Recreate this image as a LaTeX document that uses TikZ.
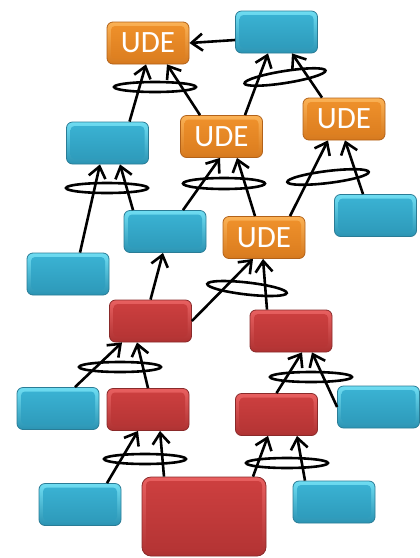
\documentclass[tikz,border=0pt]{standalone}
\usepackage{fontspec}
\newfontfamily\udefont{Carlito}
\usetikzlibrary{arrows.meta}
\definecolor{blueT}{HTML}{6FDDF2}
\definecolor{blueM}{HTML}{3BB4D5}
\definecolor{blueB}{HTML}{2A93B3}
\definecolor{blueD}{HTML}{2A7C96}
\definecolor{orT}{HTML}{FBB256}
\definecolor{orM}{HTML}{F0922C}
\definecolor{orB}{HTML}{D6781C}
\definecolor{orD}{HTML}{B2621A}
\definecolor{rdT}{HTML}{E86060}
\definecolor{rdM}{HTML}{CE4040}
\definecolor{rdB}{HTML}{AE3131}
\definecolor{rdD}{HTML}{8A2A2A}
\tikzset{
  boxbase/.style n args={4}{rounded corners=6pt, draw=#4, line width=0.8pt,
    top color=#1, bottom color=#3, minimum width=82pt, minimum height=42pt, inner sep=0pt,
    path picture={\shade[top color=#2, bottom color=#3!85!#2, rounded corners=4pt]
      ([shift={(4pt,-4pt)}]path picture bounding box.north west) rectangle
      ([shift={(-4pt,5pt)}]path picture bounding box.south east);}},
  bluebox/.style={boxbase={blueT}{blueM}{blueB}{blueD}},
  orangebox/.style={boxbase={orT}{orM}{orB}{orD}, text=white, font=\udefont\fontsize{31}{31}\selectfont},
  redbox/.style={boxbase={rdT}{rdM}{rdB}{rdD}},
  arr/.style={line width=2.6pt, -{Straight Barb[length=11pt,width=17pt]}},
  ring/.style={line width=2.6pt}
}
\begin{document}
\begin{tikzpicture}[x=1pt,y=1pt]
\useasboundingbox (0,0) rectangle (420,-558);
% nodes
\node[orangebox] (ude1) at (148,-43) {UDE};
\node[bluebox] (b1) at (276.5,-32) {};
\node[bluebox] (b2) at (107.5,-143) {};
\node[orangebox] (ude2) at (221.5,-136.5) {UDE};
\node[orangebox] (ude3) at (344,-119) {UDE};
\node[bluebox] (b3) at (165,-231.5) {};
\node[orangebox] (ude4) at (264,-237.5) {UDE};
\node[bluebox] (b4) at (375.5,-215.5) {};
\node[bluebox] (b5) at (68,-274) {};
\node[redbox] (r1) at (150.5,-321) {};
\node[redbox] (r2) at (291,-331) {};
\node[bluebox] (b6) at (58,-408.5) {};
\node[redbox] (r3) at (148,-409.5) {};
\node[redbox] (r4) at (276.5,-414.5) {};
\node[bluebox] (b7) at (378.5,-407) {};
\node[bluebox] (b8) at (80,-504.5) {};
\node[redbox, minimum width=124pt, minimum height=79pt, rounded corners=9pt] (r5) at (204,-516.5) {};
\node[bluebox] (b9) at (334,-502) {};
% connectors
\draw[arr] ([yshift=-8pt]b1.west) -- (ude1.east);
\draw[arr] ([xshift=22pt]b2.north) -- ([xshift=-2pt]ude1.south);
\draw[arr] ([xshift=-21.5pt]ude2.north) -- ([xshift=19pt]ude1.south);
\draw[arr] ([xshift=23.5pt]ude2.north) -- ([xshift=-8.5pt]b1.south);
\draw[arr] ([xshift=-22pt]ude3.north) -- ([xshift=15.5pt]b1.south);
\draw[arr] ([xshift=12pt]b5.north) -- ([xshift=-7.5pt]b2.south);
\draw[arr] ([xshift=-32pt]b3.north) -- ([xshift=12.5pt]b2.south);
\draw[arr] ([xshift=18pt]b3.north) -- ([xshift=-1.5pt]ude2.south);
\draw[arr] ([xshift=-9pt]ude4.north) -- ([xshift=15.5pt]ude2.south);
\draw[arr] ([xshift=26pt]ude4.north) -- ([xshift=-16pt]ude3.south);
\draw[arr] ([xshift=-12.5pt]b4.north) -- ([xshift=1pt]ude3.south);
\draw[arr] (r1.north) -- ([xshift=-2pt]b3.south);
\draw[arr] (r1.east) -- ([xshift=-11pt]ude4.south);
\draw[arr] ([xshift=-24pt]r2.north) -- ([xshift=-1pt]ude4.south);
\draw[arr] ([xshift=17pt]b6.north) -- ([xshift=-28.5pt]r1.south);
\draw[arr] (r3.north) -- ([xshift=-13.5pt]r1.south);
\draw[arr] (r4.north) -- ([xshift=11pt]r2.south);
\draw[arr] (b7.west) -- ([xshift=21pt]r2.south);
\draw[arr] ([xshift=27pt]b8.north) -- ([xshift=-10pt]r3.south);
\draw[arr] ([xshift=-40pt]r5.north) -- ([xshift=12pt]r3.south);
\draw[arr] ([xshift=49pt]r5.north) -- ([xshift=-8.5pt]r4.south);
\draw[arr] ([xshift=-29pt]b9.north) -- ([xshift=20.5pt]r4.south);
% AND rings
\draw[ring] (155,-87) ellipse [x radius=41, y radius=5];
\draw[ring, rotate around={9:(285,-77)}] (285,-77) ellipse [x radius=41, y radius=6];
\draw[ring] (107,-188) ellipse [x radius=41, y radius=5];
\draw[ring] (224,-183.5) ellipse [x radius=41, y radius=5.5];
\draw[ring, rotate around={7:(328,-177)}] (328,-177) ellipse [x radius=41, y radius=6];
\draw[ring, rotate around={-6.5:(247,-288.5)}] (247,-288.5) ellipse [x radius=40, y radius=6];
\draw[ring] (120,-367) ellipse [x radius=41, y radius=5];
\draw[ring] (311,-377) ellipse [x radius=41, y radius=5];
\draw[ring] (145,-459) ellipse [x radius=41, y radius=5];
\draw[ring] (287,-463) ellipse [x radius=41, y radius=5];
\end{tikzpicture}
\end{document}
